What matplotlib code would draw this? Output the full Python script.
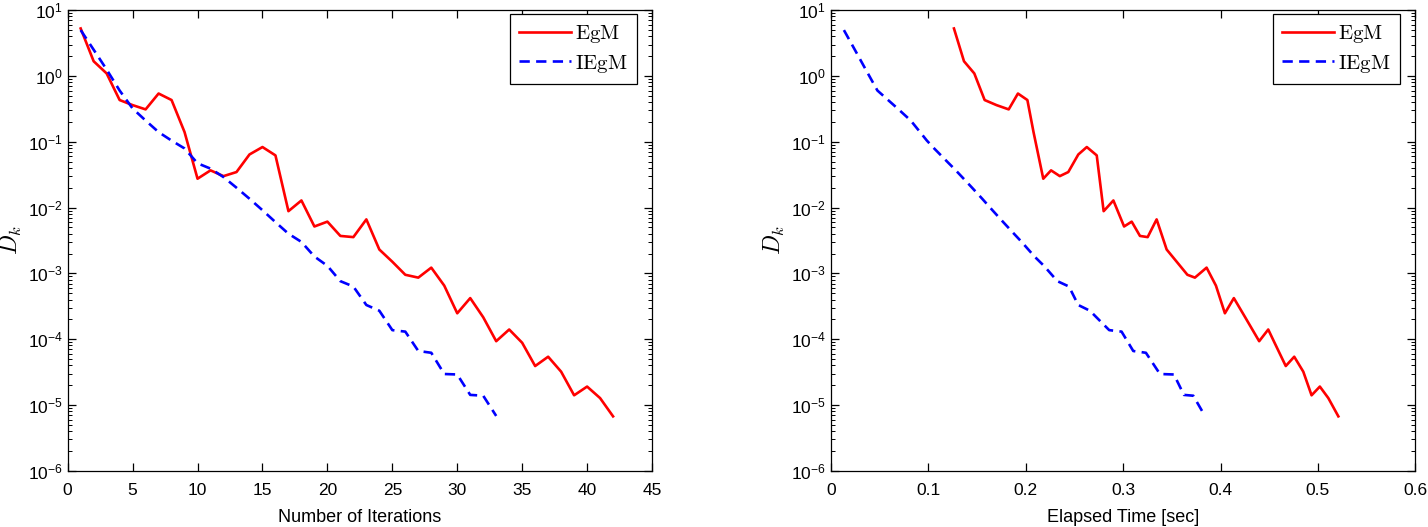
import numpy as np
import matplotlib.pyplot as plt
from matplotlib.ticker import LogLocator, NullFormatter, MultipleLocator, FormatStrFormatter

# D_k for each method, one value per iteration
egm_dk = [5.26, 1.67, 1.09, 0.43, 0.36, 0.31, 0.54, 0.43, 0.14, 0.0274,
          0.0367, 0.030, 0.0346, 0.064, 0.083, 0.062, 0.0088, 0.0128, 0.00515, 0.0061,
          0.0037, 0.00355, 0.0066, 0.0023, 0.0015, 0.00095, 0.00086, 0.00122, 0.00065, 0.000247,
          0.00042, 0.000215, 9.3e-5, 1.4e-4, 8.8e-5, 3.9e-5, 5.4e-5, 3.2e-5, 1.4e-5, 1.9e-5,
          1.27e-5, 6.7e-6]
iegm_dk = [4.97, 2.5, 1.25, 0.6, 0.32, 0.21, 0.14, 0.104, 0.079, 0.047,
           0.039, 0.029, 0.020, 0.0136, 0.0091, 0.006, 0.004, 0.003, 0.0018, 0.0013,
           0.00076, 0.00063, 0.00033, 0.00027, 1.37e-4, 1.3e-4, 6.6e-5, 6.2e-5, 2.95e-5, 2.9e-5,
           1.42e-5, 1.38e-5, 6.8e-6]

# elapsed time [sec] at each iteration
egm_time = [0.1263, 0.1366, 0.1472, 0.1578, 0.170, 0.1825, 0.192, 0.2017, 0.208, 0.218,
            0.226, 0.235, 0.2437, 0.254, 0.2627, 0.2729, 0.280, 0.290, 0.301, 0.3088,
            0.3173, 0.3252, 0.3344, 0.3447, 0.355, 0.366, 0.3737, 0.3857, 0.3953, 0.4045,
            0.4137, 0.4253, 0.4397, 0.449, 0.4555, 0.467, 0.4757, 0.485, 0.4935, 0.502,
            0.5107, 0.521]
iegm_time = [0.0133, 0.0245, 0.0357, 0.0477, 0.0684, 0.0819, 0.0915, 0.0985, 0.106, 0.121,
             0.1265, 0.1347, 0.1449, 0.1553, 0.1658, 0.1769, 0.1879, 0.1958, 0.209, 0.2187,
             0.2325, 0.2444, 0.2539, 0.2659, 0.2857, 0.2984, 0.3104, 0.3234, 0.3378, 0.3522,
             0.3624, 0.372, 0.384]

egm_iter = np.arange(1, len(egm_dk) + 1)
iegm_iter = np.arange(1, len(iegm_dk) + 1)

plt.rcParams['font.family'] = ['Liberation Sans', 'DejaVu Sans']
plt.rcParams['mathtext.fontset'] = 'cm'

fig = plt.figure(figsize=(14.28, 5.27), dpi=100)
ax1 = fig.add_axes([0.0474, 0.1068, 0.4092, 0.874])
ax2 = fig.add_axes([0.5819, 0.1068, 0.4092, 0.874])

dash = (0, (3.9, 2.4))


def style_axes(ax):
    ax.set_yscale('log')
    ax.set_ylim(1e-6, 10)
    ax.yaxis.set_major_locator(LogLocator(base=10, numticks=20))
    ax.yaxis.set_minor_locator(LogLocator(base=10, subs=np.arange(2, 10), numticks=20))
    ax.yaxis.set_minor_formatter(NullFormatter())
    ax.tick_params(which='both', direction='in', top=True, right=True, labelsize=12.5)
    ax.tick_params(axis='x', which='major', pad=9)
    ax.tick_params(which='major', length=6, width=0.9)
    ax.tick_params(which='minor', length=3, width=0.7)
    for s in ax.spines.values():
        s.set_linewidth(0.9)
    ax.set_ylabel(r'$D_k$', fontsize=17)
    ax.yaxis.set_label_coords(-0.075, 0.5)
    leg = ax.legend([r'$\mathrm{EgM}$', r'$\mathrm{IEgM}$'], loc='upper right',
                    bbox_to_anchor=(1 - 15 / 584.4, 1 - 4 / 460.7),
                    fontsize=15, fancybox=False, framealpha=1, edgecolor='black',
                    handlelength=2.5, handletextpad=0.2, borderpad=0.45,
                    labelspacing=0.35, borderaxespad=0)
    leg.get_frame().set_linewidth(0.9)


ax1.plot(egm_iter, egm_dk, color='red', lw=1.9, label='EgM')
ax1.plot(iegm_iter, iegm_dk, color='blue', lw=1.9, linestyle=dash, label='IEgM')
ax1.set_xlim(0, 45)
ax1.xaxis.set_major_locator(MultipleLocator(5))
ax1.set_xlabel('Number of Iterations', fontsize=13, labelpad=8)
style_axes(ax1)

ax2.plot(egm_time, egm_dk, color='red', lw=1.9, label='EgM')
ax2.plot(iegm_time, iegm_dk, color='blue', lw=1.9, linestyle=dash, label='IEgM')
ax2.set_xlim(0, 0.6)
ax2.xaxis.set_major_locator(MultipleLocator(0.1))
ax2.xaxis.set_major_formatter(FormatStrFormatter('%g'))
ax2.set_xlabel('Elapsed Time [sec]', fontsize=13, labelpad=8)
style_axes(ax2)

fig.savefig('out.png', dpi=100)
